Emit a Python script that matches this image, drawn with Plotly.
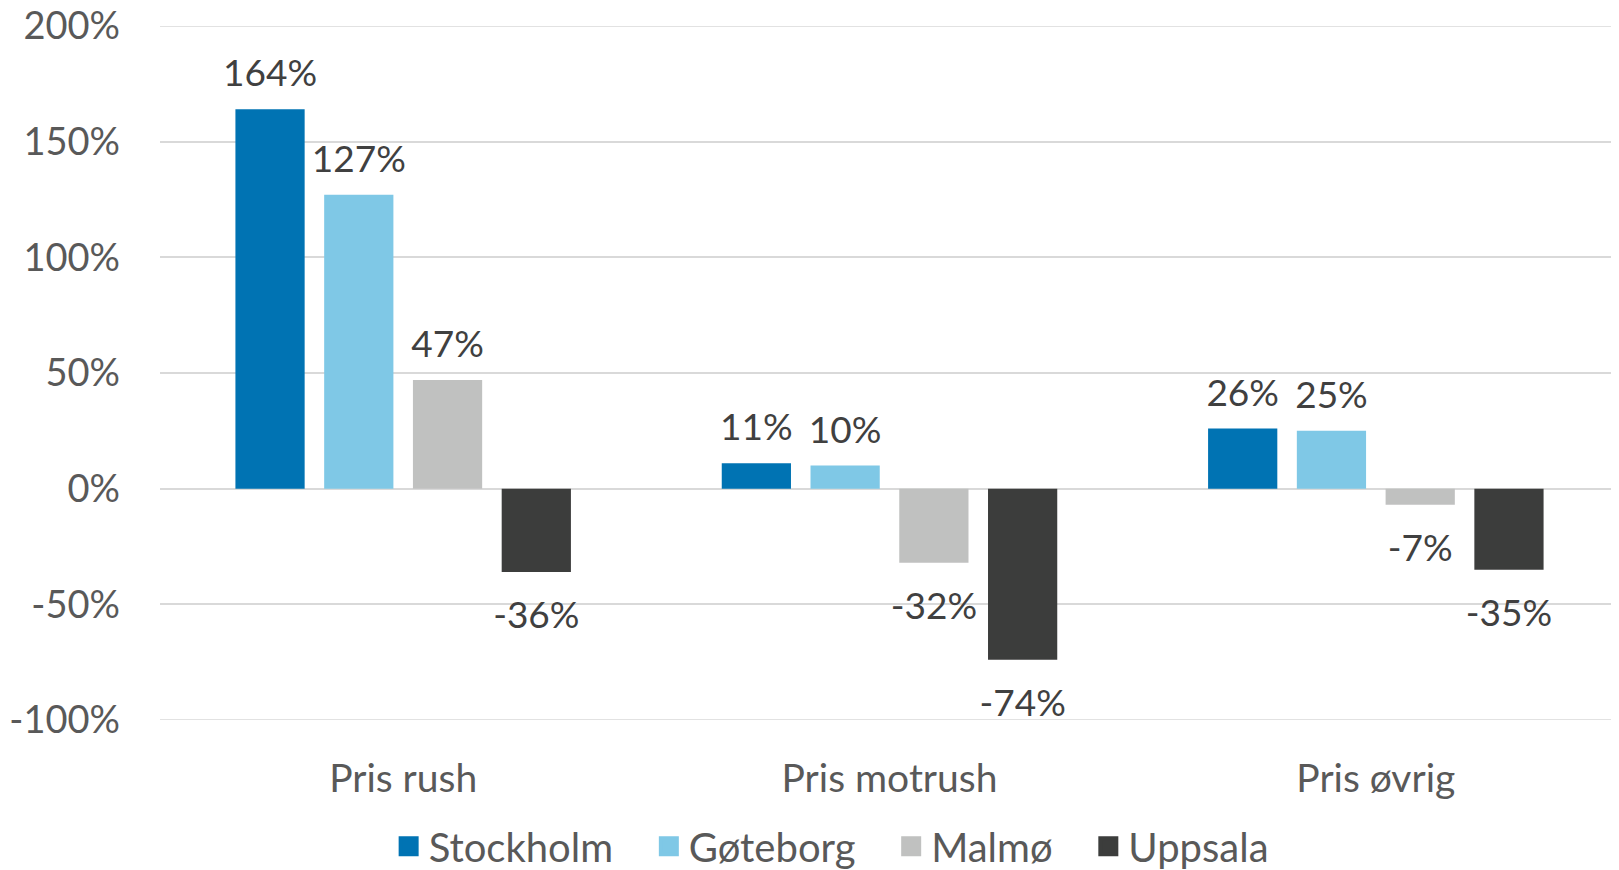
import plotly.graph_objects as go

# Data
categories = ['Pris rush', 'Pris motrush', 'Pris øvrig']
cities = ['Stockholm', 'Gøteborg', 'Malmø', 'Uppsala']
stockholm = [164, 11, 26]
goteborg = [127, 10, 25]
malmo = [47, -32, -7]
uppsala = [-36, -74, -35]
colors = ['#0073B3', '#7FC8E6', '#C0C1C0', '#3C3D3C']
y_ticks = [-100, -50, 0, 50, 100, 150, 200]

font_family = 'Lato, Calibri, sans-serif'


def label(v):
    # small blank line keeps the label a bit away from the bar end
    big = f'<span style="font-size:37px">{v}%</span>'
    return f'{big}<br> ' if v >= 0 else f' <br>{big}'


fig = go.Figure()
for name, vals, col in zip(cities, [stockholm, goteborg, malmo, uppsala], colors):
    fig.add_trace(go.Bar(
        x=categories, y=vals, name=name, showlegend=False,
        marker=dict(color=col, line=dict(width=0)),
        text=[label(v) for v in vals],
        textposition='outside', constraintext='none', cliponaxis=False,
        textfont=dict(size=[13 if v >= 0 else 23 for v in vals],
                      color='#404040', family=font_family),
    ))

# legend entries with square swatches
gap = '\u00a0' * 3
for i, (name, col) in enumerate(zip(cities, colors)):
    fig.add_trace(go.Scatter(
        x=[None], y=[None], mode='markers',
        name=name + (gap if i < len(cities) - 1 else ''),
        marker=dict(symbol='square', size=22, color=col, line=dict(color=col, width=4)),
    ))

# gridlines at the range ends
for yv in (y_ticks[0], y_ticks[-1]):
    fig.add_shape(type='line', xref='paper', x0=0, x1=1, y0=yv, y1=yv,
                  line=dict(color='#D9D9D9', width=1.5), layer='below')

# page body has an 8px default margin, so the figure is 8px smaller
fig.update_layout(
    barmode='group', bargap=0.27, bargroupgap=0.22,
    width=1611, height=862,
    margin=dict(l=152, r=0, t=18, b=150, autoexpand=False),
    paper_bgcolor='white', plot_bgcolor='white',
    font=dict(family=font_family, size=38, color='#595959'),
    legend=dict(orientation='h', x=0.46, xanchor='center', y=-0.182, yanchor='middle',
                font=dict(size=40, color='#595959'), itemwidth=30, traceorder='normal'),
    yaxis=dict(range=[-100, 200], tickvals=y_ticks,
               ticktext=[f'{t}%' for t in y_ticks],
               showgrid=True, gridcolor='#D9D9D9', gridwidth=1.5,
               zeroline=True, zerolinecolor='#D9D9D9', zerolinewidth=1.5,
               showline=False, ticklabelstandoff=39, tickfont=dict(size=38),
               ticklabeloverflow='allow', automargin=False),
    xaxis=dict(showline=False, ticks='', ticklabelstandoff=32, tickfont=dict(size=39),
               automargin=False),
)

fig.write_html('out.html')
